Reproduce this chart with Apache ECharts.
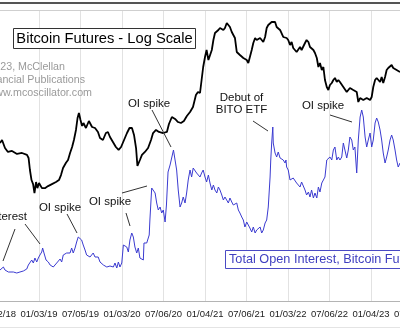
<!DOCTYPE html>
<html><head><meta charset="utf-8">
<script src="https://cdn.jsdelivr.net/npm/echarts@6/dist/echarts.min.js"></script>
<style>html,body{margin:0;padding:0;background:#fff}#c{width:400px;height:332px}</style>
</head><body><div id="c"></div>
<script>
// x axis: days since 2018-07-02, gridline every 183 days
const xTickLabels = ['07/02/18','01/03/19','07/05/19','01/03/20','07/06/20','01/04/21','07/06/21','01/03/22','07/06/22','01/04/23','07/06/23'];
const xTickStep = 183;

// Bitcoin futures price (log scale)
const btcDays = [11,20,26,33,46,64,86,108,130,137,143,150,157,163,170,176,183,196,209,223,240,258,271,280,289,302,311,320,329,337,346,353,359,366,373,379,390,403,417,430,443,452,465,478,487,496,509,522,534,545,558,571,582,593,602,611,617,622,628,637,650,664,677,686,699,712,730,747,756,769,783,796,809,822,835,849,862,875,884,893,900,907,915,922,930,937,945,952,959,967,974,981,989,996,1003,1011,1018,1025,1033,1040,1047,1055,1062,1069,1084,1099,1106,1113,1121,1128,1136,1143,1158,1172,1180,1187,1194,1202,1209,1216,1224,1231,1246,1260,1268,1275,1282,1290,1297,1304,1312,1319,1326,1334,1341,1348,1356,1363,1371,1378,1393,1400,1408,1415,1422,1430,1437,1444,1452,1459,1466,1474,1481,1488,1496,1503,1510,1525,1540,1554,1569,1584,1591,1599,1613,1628,1643,1650,1657,1665,1672,1687,1694,1701,1709,1716,1723,1738,1745,1753,1760,1775];
const btcPrice = [7760,8190,8050,7100,6620,6740,6390,6500,6280,5950,4805,4020,3740,3190,3880,3480,3810,3480,3480,3610,3740,3880,4020,4390,4980,5460,5740,6500,7230,8190,9780,12100,13230,11680,10500,11070,10130,11470,10310,10130,9440,8480,8190,9270,9440,8640,7900,7230,6860,7230,8190,9270,10130,10130,8950,7100,5160,4980,5740,6280,6620,7100,8190,9270,9780,9440,9270,9440,10880,12320,11890,11270,11070,11470,12540,13460,14710,18210,19210,18870,23770,29940,35760,40500,33910,35130,40500,48370,54770,55750,57770,59860,60930,57770,59860,65420,63140,60930,55750,54770,50120,39090,40500,37060,35130,33910,32150,32720,40500,45860,50120,48370,50120,46680,51020,59860,63140,65420,66600,69000,66600,60930,57770,51020,52860,50120,48370,44260,46680,41960,42720,39090,40500,42720,40500,41960,45860,48370,46680,42720,40500,38400,35130,29940,32150,28390,29940,23770,20990,19900,21740,22530,23770,24630,22940,23770,22940,20990,19210,20620,19900,19210,16080,17260,16660,17260,16660,17570,20990,23770,24630,22940,25070,22530,25070,28390,29420,31030,29420,29940,28390,27390];

// Total open interest, bitcoin futures (contracts, estimated)
const oiDays = [11,19,26,33,41,48,55,70,85,92,99,107,114,121,129,136,143,151,158,165,173,180,187,195,199,205,214,224,232,239,246,254,261,268,276,283,290,298,305,312,320,327,334,342,349,356,364,371,378,386,393,400,408,415,422,430,437,444,452,459,467,482,496,511,518,526,533,540,548,555,562,570,577,584,592,599,606,614,621,628,636,643,646,658,665,669,672,680,687,695,702,709,717,724,731,739,745,752,761,768,776,783,790,797,805,812,819,827,834,841,849,856,863,878,893,900,907,915,922,930,937,945,952,959,967,974,981,989,996,1003,1011,1018,1025,1033,1040,1047,1055,1062,1069,1077,1084,1091,1099,1113,1121,1128,1136,1143,1150,1158,1165,1172,1180,1187,1194,1202,1205,1209,1214,1216,1224,1231,1238,1246,1253,1260,1268,1272,1275,1282,1290,1297,1304,1312,1319,1334,1341,1348,1356,1363,1371,1378,1385,1393,1400,1408,1415,1422,1430,1437,1444,1452,1459,1466,1474,1481,1488,1496,1503,1510,1518,1525,1532,1540,1547,1554,1562,1569,1576,1584,1591,1599,1606,1613,1621,1628,1635,1643,1650,1657,1665,1672,1679,1687,1694,1701,1709,1716,1723,1731,1738,1745,1753,1760,1767,1775];
const oiValue = [3100,3300,3400,3100,3200,2900,3100,2900,2800,2700,2900,2800,3000,2900,3200,3600,3800,4100,3800,4300,3900,4300,4600,4900,5300,4800,4100,3900,3600,3800,3400,3600,3800,3900,4200,3900,4600,4400,4800,4900,4800,5300,4800,5300,5900,6400,6400,6100,5600,5100,4600,4800,4400,4600,4800,4400,4600,4400,3900,3800,3600,3400,3500,3400,3800,3300,3900,3400,3800,5600,5800,5400,4900,6100,6800,6400,5400,4800,5300,4300,4200,4100,5800,5800,5900,6600,8100,11300,11400,10800,9800,9100,9400,8800,9100,7900,9600,12900,13600,13800,15100,14900,13100,11100,9400,9800,10400,9800,10800,12100,13100,12400,13300,12800,12400,12800,13100,12400,11900,12600,11800,11100,11600,11100,10800,11400,11100,10600,10100,10400,10300,9800,10300,9900,9600,9400,9800,9100,8800,8400,8100,7400,7900,7300,6900,7400,6800,7100,6900,7400,6800,7100,7800,8100,9400,12400,14100,15800,17400,15800,14800,14400,14900,14300,14400,14100,13800,14100,13400,13100,12100,11900,12300,12100,11800,11400,11900,12100,11100,10600,10900,10400,11100,10300,10800,10300,11400,10900,11800,12100,12400,14100,14300,14400,14100,15100,15400,14100,14400,14100,14400,15800,15100,14300,15100,16400,16100,15100,15400,12800,16100,18400,19100,18400,16400,15400,16100,16800,15400,16100,17800,18300,17900,17100,16100,14800,13800,14400,15100,16100,16600,16100,15100,14100,13400,13800];

const FONT = 'Arial, "Liberation Sans", sans-serif';
function txt(x, y, t, size, color, align) {
  return {type:'text', x:x, y:y, silent:true, z:10,
    style:{text:t, fill:color, font:'normal ' + size + 'px ' + FONT,
      align:align, textAlign:align, verticalAlign:'middle', textVerticalAlign:'middle'}};
}
function ln(x1, y1, x2, y2, color, w) {
  return {type:'line', silent:true, z:9, shape:{x1:x1, y1:y1, x2:x2, y2:y2}, style:{stroke:color, lineWidth:w}};
}

const chart = echarts.init(document.getElementById('c'), null, {renderer:'canvas'});
chart.setOption({
  animation:false,
  backgroundColor:'#fff',
  grid:{left:-2.5, right:-12.5, top:10, bottom:31, containLabel:false, outerBoundsMode:'none'},
  xAxis:{type:'value', min:0, max:1830, interval:xTickStep,
    axisLine:{show:true, lineStyle:{color:'#b4b4b4', width:1}},
    axisTick:{show:false},
    splitLine:{show:true, lineStyle:{color:'#e2e2e2', width:1}},
    axisLabel:{formatter:function(v){return xTickLabels[Math.round(v/xTickStep)] || '';},
      color:'#222', fontSize:9.5, fontFamily:FONT, margin:8, showMinLabel:true, showMaxLabel:true, hideOverlap:false}},
  yAxis:[
    {type:'log', min:469, max:82400, show:false, splitLine:{show:false}},
    {type:'value', min:0, max:29100, show:false, splitLine:{show:false}}
  ],
  series:[
    {type:'line', yAxisIndex:1, data:oiDays.map(function(d,i){return [d, oiValue[i]];}),
      showSymbol:false, symbol:'none', lineStyle:{color:'#3b3bd0', width:1}, z:2},
    {type:'line', yAxisIndex:0, data:btcDays.map(function(d,i){return [d, btcPrice[i]];}),
      showSymbol:false, symbol:'none', lineStyle:{color:'#000', width:1.8}, z:3}
  ],
  graphic:[
    ln(0, 3, 400, 3, '#555', 2),
    ln(0, 10.5, 400, 10.5, '#cfcfcf', 1),
    ln(0, 327.5, 400, 327.5, '#e4e4e4', 1),
    {type:'rect', silent:true, z:9, shape:{x:13.5, y:28.5, width:182, height:20}, style:{fill:'#fff', stroke:'#333', lineWidth:1}},
    txt(104.5, 38.5, 'Bitcoin Futures - Log Scale', 14.7, '#000', 'center'),
    txt(65, 67, '\u00a92023, McClellan', 10.7, '#9a9a9a', 'right'),
    txt(85, 80, 'Financial Publications', 10.7, '#9a9a9a', 'right'),
    txt(92, 93, 'www.mcoscillator.com', 10.7, '#9a9a9a', 'right'),
    txt(27, 217, 'Open Interest', 11.5, '#111', 'right'),
    ln(15, 229, 3, 261, '#333', 1),
    ln(25, 224, 40, 244, '#333', 1),
    txt(60, 207.5, 'OI spike', 11.5, '#111', 'center'),
    ln(67, 214, 77, 233, '#333', 1),
    txt(110, 202, 'OI spike', 11.5, '#111', 'center'),
    ln(122, 193, 147, 186, '#333', 1),
    ln(126, 213, 130, 226, '#333', 1),
    txt(149, 104, 'OI spike', 11.5, '#111', 'center'),
    ln(152, 110, 171, 147, '#333', 1),
    txt(241.5, 97.5, 'Debut of', 11.5, '#111', 'center'),
    txt(241.5, 110, 'BITO ETF', 11.5, '#111', 'center'),
    ln(253, 121, 268, 131, '#333', 1),
    txt(323, 106, 'OI spike', 11.5, '#111', 'center'),
    ln(330, 115, 352, 122, '#333', 1),
    {type:'rect', silent:true, z:9, shape:{x:225.5, y:250.5, width:220, height:18}, style:{fill:'#fff', stroke:'#4a4ac4', lineWidth:1}},
    txt(229, 259.5, 'Total Open Interest, Bitcoin Futures', 12.7, '#4040c0', 'left')
  ]
});
</script></body></html>
